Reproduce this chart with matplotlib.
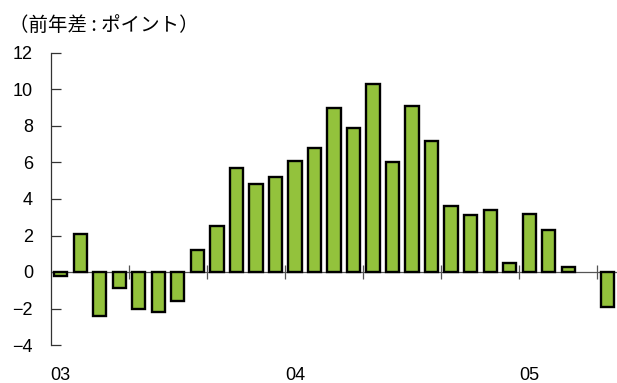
#!/usr/bin/env python3
"""Year-on-year difference bar chart (monthly, 2003-2005)."""
import numpy as np
import matplotlib
matplotlib.use("Agg")
import matplotlib.pyplot as plt

# monthly values, Jan 2003 .. May 2005 (Apr 2005 left blank)
months = list(range(29))
values = [-0.2, 2.1, -2.4, -0.9, -2.0, -2.2, -1.6, 1.2, 2.5, 5.7, 4.8, 5.2,
          6.1, 6.8, 9.0, 7.9, 10.3, 6.0, 9.1, 7.2, 3.6, 3.1, 3.4, 0.5,
          3.2, 2.3, 0.3, np.nan, -1.9]
year_pos = [0, 12, 24]
year_labels = ["03", "04", "05"]
yticks = [-4, -2, 0, 2, 4, 6, 8, 10, 12]

BAR_COLOR = "#93c23c"
NUM_FONT = ["Liberation Sans", "DejaVu Sans"]
JP_FONT = ["Noto Sans CJK JP", "DejaVu Sans"]

fig = plt.figure(figsize=(6.17, 3.83), dpi=100)
ax = fig.add_axes([51 / 617, 1 - 345 / 383, 566 / 617, 292 / 383])

ax.bar(months, values, width=0.68, color=BAR_COLOR, edgecolor="black",
       linewidth=1.7, zorder=3)

ax.set_xlim(-0.5, 28.5)
ax.set_ylim(-4, 12)

# zero line with small separators every 4 months
ax.axhline(0, color="#555555", linewidth=0.9, zorder=2)
seps = np.arange(3.5, 28.5, 4)
ax.vlines(seps, -0.36, 0.36, color="#555555", linewidth=0.9, zorder=2)

for s in ["top", "right", "bottom"]:
    ax.spines[s].set_visible(False)
ax.spines["left"].set_color("#333333")
ax.spines["left"].set_linewidth(0.9)

ax.set_yticks(yticks)
ax.set_yticklabels([str(v).replace("-", "\u2212") for v in yticks],
                   family=NUM_FONT, fontsize=13)
ax.tick_params(axis="y", direction="in", length=7, width=0.9,
               color="#333333", pad=13)
ax.set_xticks([])

for p, lab in zip(year_pos, year_labels):
    ax.text(p, -0.075, lab, transform=ax.get_xaxis_transform(),
            ha="center", va="top", family=NUM_FONT, fontsize=13)

fig.text(9 / 617, 1 - 25 / 383, "（前年差 : ポイント）", family=JP_FONT,
         fontsize=14, ha="left", va="center")

fig.savefig("out.png", dpi=100)
plt.close(fig)
